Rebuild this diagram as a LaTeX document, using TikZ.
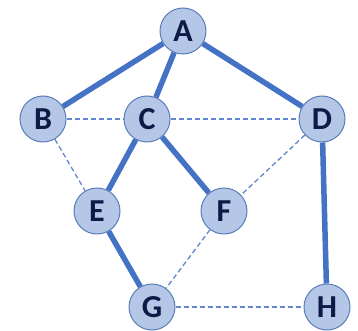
\documentclass[tikz,border=0pt]{standalone}
\usepackage{fontspec}
\setmainfont{Carlito}
\definecolor{nodefill}{HTML}{B4C7E7}
\definecolor{nodeline}{HTML}{5A7DB8}
\definecolor{edgeblue}{HTML}{4472C4}
\definecolor{labelnavy}{HTML}{0C1A45}
\begin{document}
\begin{tikzpicture}[x=1pt,y=-1pt,
	vertex/.style={circle,draw=nodeline,fill=nodefill,line width=1pt,minimum size=46pt,inner sep=0pt,text=labelnavy,font=\fontsize{32}{32}\selectfont\bfseries},
	tree/.style={draw=edgeblue,line width=5.5pt},
	cross/.style={draw=edgeblue!85,line width=1.3pt,dash pattern=on 5pt off 3pt}]
		\useasboundingbox (0,0) rectangle (358,331);
		\foreach \n/\x/\y in {A/183/31,B/43/119,C/147/119,D/322/119,E/97/211,F/224/211,G/152/307,H/327/307}
		{
			\node[vertex] (\n) at (\x,\y) {\n};
		}
		\foreach \a/\b in {A/B,A/C,A/D,C/E,C/F,D/H,E/G}
		{
			\draw[tree] (\a) -- (\b);
		}
		\foreach \a/\b in {B/C,C/D,B/E,D/F,F/G,G/H}
		{
			\draw[cross] (\a) -- (\b);
		}
		\end{tikzpicture}
\end{document}
